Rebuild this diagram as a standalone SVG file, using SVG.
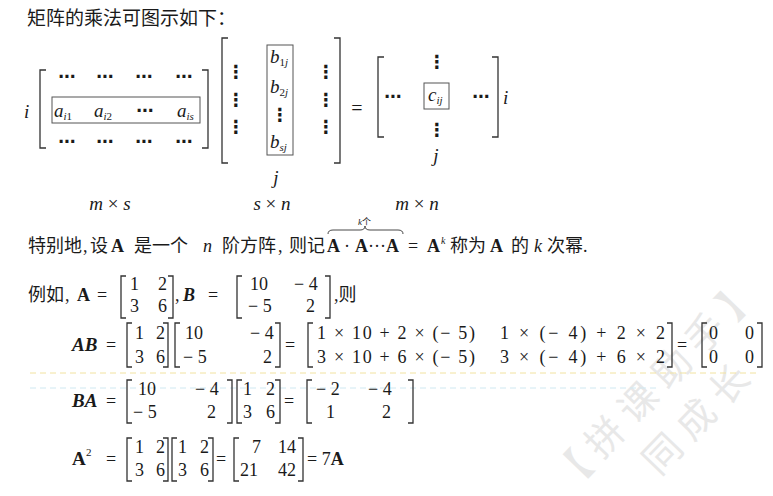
<svg xmlns="http://www.w3.org/2000/svg" width="773" height="496" viewBox="0 0 773 496">
<style>
.t{font-family:"Liberation Serif","Noto Sans CJK SC",serif;fill:#1a1a1a;font-size:18px}
.it{font-style:italic}
.bd{font-weight:bold}
.bi{font-weight:bold;font-style:italic}
.sm{font-size:11px}
.dd{font-family:"DejaVu Sans",sans-serif;fill:#1a1a1a;font-size:17px;font-weight:bold;text-anchor:middle}
.br{fill:none;stroke:#333;stroke-width:1.3}
.bx{fill:none;stroke:#555;stroke-width:1}
.wm{font-family:"Noto Sans CJK SC",sans-serif;fill:#e8e8e8;font-size:38px;letter-spacing:10px}
</style>
<rect width="773" height="496" fill="#fff"/>
<g id="watermark" transform="translate(572,472) rotate(-46)">
<text class="wm" x="-19" y="13">【拼课助手】</text>
<text class="wm" x="57" y="66">同成长</text>
</g>
<g id="scanlines">
<line x1="30" y1="373" x2="760" y2="373" stroke="#f1e2a0" stroke-width="1" stroke-dasharray="6 4"/>
<line x1="30" y1="388" x2="660" y2="388" stroke="#cfe8f1" stroke-width="1" stroke-dasharray="6 4"/>
</g>
<text class="t" x="27" y="25" style="font-size:19px">矩阵的乘法可图示如下：</text>
<g id="matrixA">
<path class="br" d="M46,70H40V148H46M202,70H208V148H202"/>
<text class="t it" x="24" y="118" style="font-size:19px">i</text>
<text class="dd" x="67" y="82">⋯</text><text class="dd" x="105" y="82">⋯</text><text class="dd" x="144" y="82">⋯</text><text class="dd" x="184" y="82">⋯</text>
<rect class="bx" x="52" y="97" width="148" height="26"/>
<text class="t it" x="54" y="117" style="font-size:19px">a<tspan class="sm" dy="3">i</tspan><tspan class="sm" style="font-style:normal">1</tspan></text>
<text class="t it" x="94" y="117" style="font-size:19px">a<tspan class="sm" dy="3">i</tspan><tspan class="sm" style="font-style:normal">2</tspan></text>
<text class="dd" x="145" y="116">⋯</text>
<text class="t it" x="177" y="117" style="font-size:19px">a<tspan class="sm" dy="3">is</tspan></text>
<text class="dd" x="67" y="147">⋯</text><text class="dd" x="105" y="147">⋯</text><text class="dd" x="144" y="147">⋯</text><text class="dd" x="184" y="147">⋯</text>
<text class="t it" x="110" y="210" text-anchor="middle" style="font-size:19px">m <tspan style="font-style:normal">×</tspan> s</text>
</g>
<g id="matrixB">
<path class="br" d="M228,38H222V163H228M334,38H340V163H334"/>
<rect class="bx" x="267" y="45" width="26" height="110"/>
<text class="t it" x="270" y="63" style="font-size:19px">b<tspan class="sm" dy="3" style="font-style:normal">1</tspan><tspan class="sm">j</tspan></text>
<text class="t it" x="270" y="93" style="font-size:19px">b<tspan class="sm" dy="3" style="font-style:normal">2</tspan><tspan class="sm">j</tspan></text>
<text class="dd" x="280" y="121" style="font-size:18px">⋮</text>
<text class="t it" x="270" y="148" style="font-size:19px">b<tspan class="sm" dy="3">sj</tspan></text>
<text class="dd" x="236" y="78" style="font-size:18px">⋮</text><text class="dd" x="236" y="106" style="font-size:18px">⋮</text><text class="dd" x="236" y="133" style="font-size:18px">⋮</text>
<text class="dd" x="326" y="78" style="font-size:18px">⋮</text><text class="dd" x="326" y="106" style="font-size:18px">⋮</text><text class="dd" x="326" y="133" style="font-size:18px">⋮</text>
<text class="t it" x="276" y="184" text-anchor="middle" style="font-size:19px">j</text>
<text class="t it" x="272" y="210" text-anchor="middle" style="font-size:19px">s <tspan style="font-style:normal">×</tspan> n</text>
</g>
<text class="t" x="357" y="115" text-anchor="middle" style="font-size:20px">=</text>
<g id="matrixC">
<path class="br" d="M384,57H378V137H384M492,57H498V137H492"/>
<text class="dd" x="393" y="102">⋯</text>
<rect class="bx" x="424" y="83" width="25" height="26"/>
<text class="t it" x="428" y="101" style="font-size:19px">c<tspan class="sm" dy="3">ij</tspan></text>
<text class="dd" x="481" y="102">⋯</text>
<text class="dd" x="437" y="68" style="font-size:18px">⋮</text>
<text class="dd" x="437" y="136" style="font-size:18px">⋮</text>
<text class="t it" x="503" y="104" style="font-size:19px">i</text>
<text class="t it" x="436" y="162" text-anchor="middle" style="font-size:19px">j</text>
<text class="t it" x="417" y="210" text-anchor="middle" style="font-size:19px">m <tspan style="font-style:normal">×</tspan> n</text>
</g>
<g id="power-line">
<path fill="none" stroke="#333" stroke-width="0.9" d="M328,234Q328,230 333,230L360,230Q365,230 365,226Q365,230 370,230L398,230Q403,230 403,234"/>
<text class="t" x="358" y="225" style="font-size:9px"><tspan class="it">k</tspan>个</text>
<text class="t" y="252"><tspan x="28">特别地</tspan><tspan x="83">,</tspan><tspan x="90">设</tspan><tspan x="111" class="bd">A</tspan><tspan x="134">是一个</tspan><tspan x="203" class="it">n</tspan><tspan x="222">阶方阵</tspan><tspan x="278">,</tspan><tspan x="289">则记</tspan><tspan x="327" class="bd">A</tspan><tspan x="344">·</tspan><tspan x="355" class="bd">A</tspan><tspan x="368">···</tspan><tspan x="386" class="bd">A</tspan><tspan x="408">=</tspan><tspan x="427" class="bd">A</tspan><tspan x="450">称为</tspan><tspan x="490" class="bd">A</tspan><tspan x="511">的</tspan><tspan x="534" class="it">k</tspan><tspan x="547">次幂.</tspan></text>
<text class="t it" x="441" y="244" style="font-size:10px">k</text>
</g>
<g id="example">
<text class="t" y="301"><tspan x="28">例如</tspan><tspan x="65">,</tspan><tspan x="77" class="bd">A</tspan><tspan x="97">=</tspan><tspan x="175">,</tspan><tspan x="183" class="bi">B</tspan><tspan x="208">=</tspan><tspan x="334">,则</tspan></text>
<path class="br" d="M126,276H121V318H126M168,276H173V318H168"/>
<text class="t" y="290"><tspan x="130">1</tspan><tspan x="158">2</tspan></text>
<text class="t" y="312"><tspan x="130">3</tspan><tspan x="158">6</tspan></text>
<path class="br" d="M242,276H237V318H242M325,276H330V318H325"/>
<text class="t" y="290"><tspan x="250">10</tspan><tspan x="294">− 4</tspan></text>
<text class="t" y="312"><tspan x="248">− 5</tspan><tspan x="306">2</tspan></text>
</g>
<g id="AB">
<text class="t" y="351"><tspan x="72" class="bi" style="font-size:19px">AB</tspan><tspan x="106">=</tspan><tspan x="285">=</tspan><tspan x="677">=</tspan></text>
<path class="br" d="M132,323H127V367H132M163,323H168V367H163"/>
<text class="t" y="339"><tspan x="135">1</tspan><tspan x="156">2</tspan></text>
<text class="t" y="363"><tspan x="135">3</tspan><tspan x="156">6</tspan></text>
<path class="br" d="M180,323H175V367H180M275,323H280V367H275"/>
<text class="t" y="339"><tspan x="185">10</tspan><tspan x="250">− 4</tspan></text>
<text class="t" y="363"><tspan x="183">− 5</tspan><tspan x="263">2</tspan></text>
<path class="br" d="M313,323H308V367H313M667,323H672V367H667"/>
<text class="t" x="317" y="339" textLength="158" lengthAdjust="spacing">1 × 10 + 2 × (− 5)</text>
<text class="t" x="500" y="339" textLength="165" lengthAdjust="spacing">1 × (− 4) + 2 × 2</text>
<text class="t" x="317" y="363" textLength="158" lengthAdjust="spacing">3 × 10 + 6 × (− 5)</text>
<text class="t" x="500" y="363" textLength="165" lengthAdjust="spacing">3 × (− 4) + 6 × 2</text>
<path class="br" d="M707,323H702V367H707M757,323H762V367H757"/>
<text class="t" y="339"><tspan x="709">0</tspan><tspan x="745">0</tspan></text>
<text class="t" y="363"><tspan x="709">0</tspan><tspan x="745">0</tspan></text>
</g>
<g id="BA">
<text class="t" y="407"><tspan x="72" class="bi" style="font-size:19px">BA</tspan><tspan x="106">=</tspan><tspan x="284">=</tspan></text>
<path class="br" d="M132,380H127V423H132M227,380H232V423H227"/>
<text class="t" y="395"><tspan x="138">10</tspan><tspan x="195">− 4</tspan></text>
<text class="t" y="418"><tspan x="133">− 5</tspan><tspan x="207">2</tspan></text>
<path class="br" d="M242,380H237V423H242M275,380H280V423H275"/>
<text class="t" y="395"><tspan x="243">1</tspan><tspan x="266">2</tspan></text>
<text class="t" y="418"><tspan x="243">3</tspan><tspan x="266">6</tspan></text>
<path class="br" d="M312,380H307V423H312M408,380H413V423H408"/>
<text class="t" y="395"><tspan x="316">− 2</tspan><tspan x="368">− 4</tspan></text>
<text class="t" y="418"><tspan x="326">1</tspan><tspan x="382">2</tspan></text>
</g>
<g id="A2">
<text class="t" y="465"><tspan x="72" class="bd" style="font-size:19px">A</tspan><tspan x="106">=</tspan><tspan x="216">=</tspan><tspan x="307">= 7<tspan class="bd">A</tspan></tspan></text>
<text class="t" x="86" y="456" style="font-size:11px">2</text>
<path class="br" d="M132,438H127V481H132M163,438H168V481H163"/>
<text class="t" y="453"><tspan x="135">1</tspan><tspan x="156">2</tspan></text>
<text class="t" y="476"><tspan x="135">3</tspan><tspan x="156">6</tspan></text>
<path class="br" d="M177,438H172V481H177M208,438H213V481H208"/>
<text class="t" y="453"><tspan x="178">1</tspan><tspan x="200">2</tspan></text>
<text class="t" y="476"><tspan x="178">3</tspan><tspan x="200">6</tspan></text>
<path class="br" d="M239,438H234V481H239M298,438H303V481H298"/>
<text class="t" y="453"><tspan x="252">7</tspan><tspan x="278">14</tspan></text>
<text class="t" y="476"><tspan x="240">21</tspan><tspan x="278">42</tspan></text>
</g>
</svg>
